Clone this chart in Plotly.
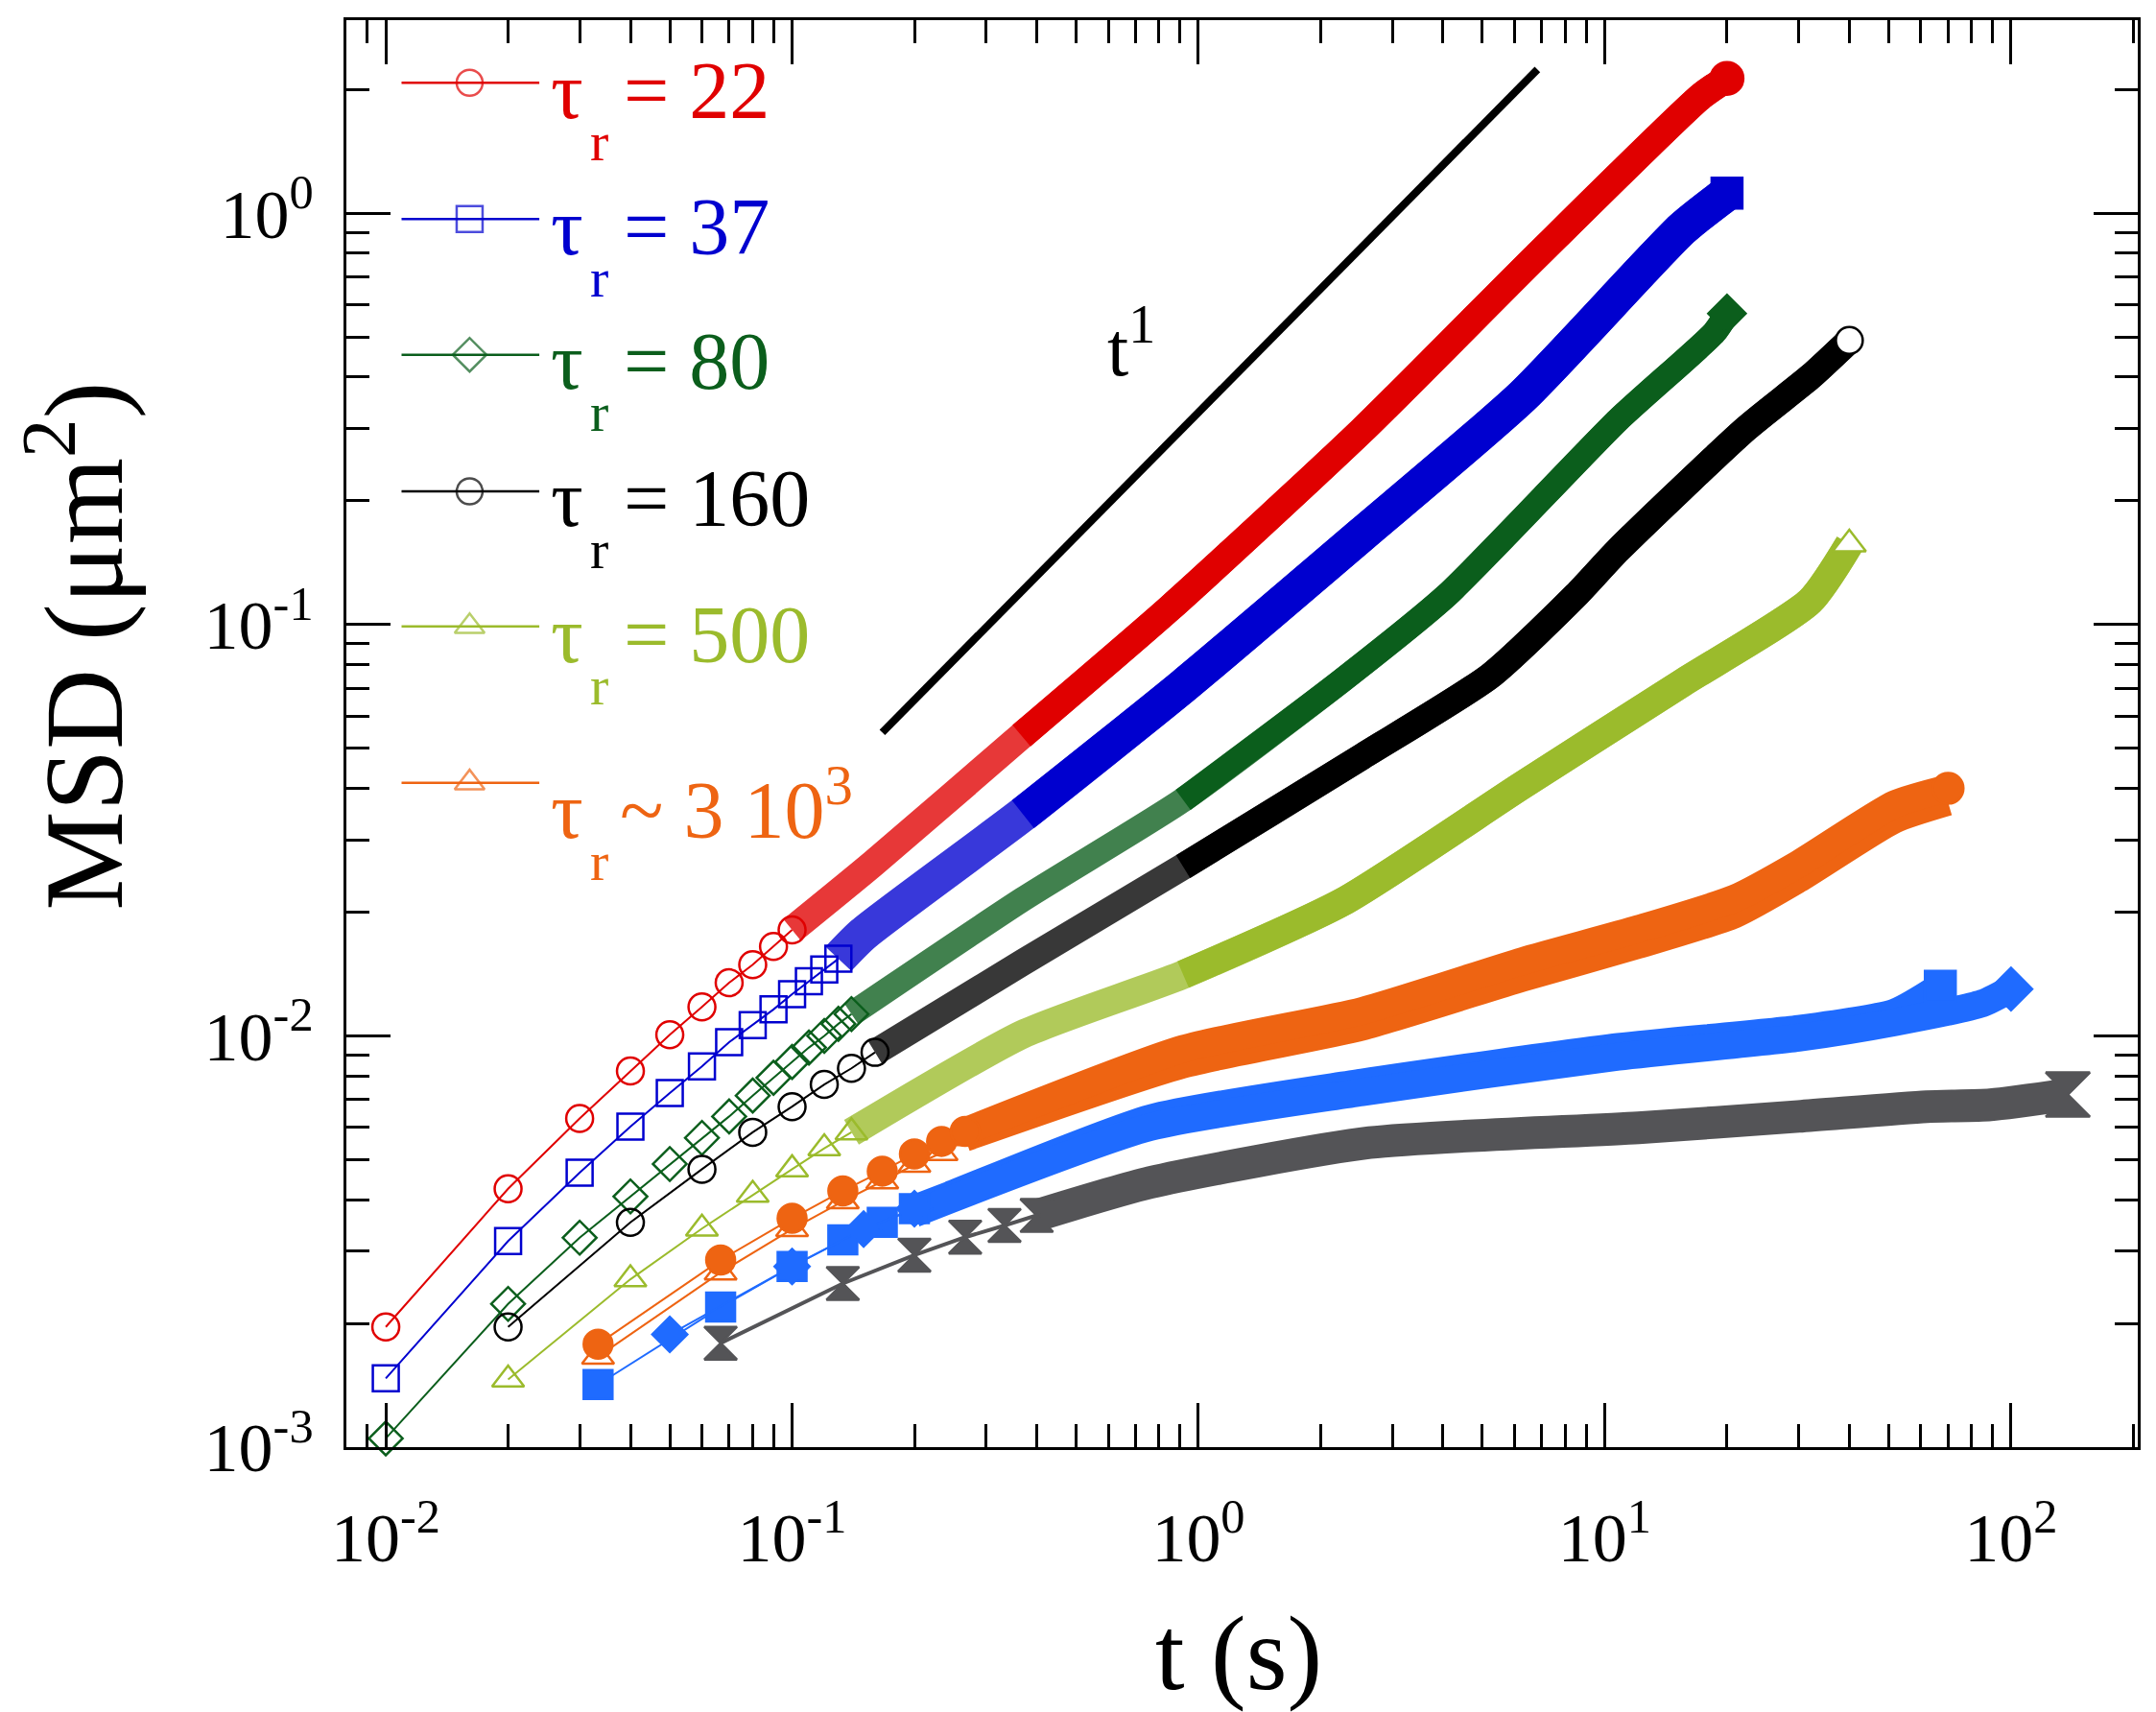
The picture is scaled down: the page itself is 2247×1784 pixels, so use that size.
import plotly.graph_objects as go

FONT = "Liberation Serif"

# ---------------- axis ticks ----------------
X_TICKS = [0.01, 0.1, 1, 10, 100]
X_TICK_TEXT = ["10<sup>-2</sup>", "10<sup>-1</sup>", "10<sup>0</sup>", "10<sup>1</sup>", "10<sup>2</sup>"]
Y_TICKS = [0.001, 0.01, 0.1, 1]
Y_TICK_TEXT = ["10<sup>-3</sup>", "10<sup>-2</sup>", "10<sup>-1</sup>", "10<sup>0</sup>"]
X_MINOR = [m * 10.0 ** e for e in (-3, -2, -1, 0, 1, 2) for m in range(2, 10)]
Y_MINOR = [m * 10.0 ** e for e in (-3, -2, -1, 0) for m in range(2, 10)]

# ---------------- data (t in s, MSD in um^2) ----------------
# tau_r = 22 (open circles)
R22_T = [0.01, 0.02, 0.03, 0.04, 0.05, 0.06, 0.07, 0.08, 0.09, 0.10]
R22_MSD = [0.00196, 0.00425, 0.0063, 0.00822, 0.01007, 0.01176, 0.01347, 0.0149, 0.0165, 0.0181]
R22_BAND_T = [0.10, 0.158, 0.367, 0.853, 2.53, 6.8, 17.3, 20]
R22_BAND_MSD = [0.0181, 0.0262, 0.0537, 0.110, 0.297, 0.788, 1.93, 2.13]

# tau_r = 37 (open squares)
B37_T = [0.01, 0.02, 0.03, 0.04, 0.05, 0.06, 0.07, 0.08, 0.09, 0.10, 0.11, 0.12, 0.13]
B37_MSD = [0.00147, 0.00317, 0.00465, 0.00602, 0.00726, 0.00843, 0.00966, 0.01062, 0.0116,
           0.01263, 0.01358, 0.0145, 0.0154]
B37_BAND_T = [0.13, 0.1496, 0.370, 0.917, 2.53, 6.27, 15.5, 20]
B37_BAND_MSD = [0.0154, 0.0177, 0.0346, 0.0709, 0.166, 0.359, 0.918, 1.12]

# tau_r = 80 (open diamonds)
G80_T = [0.01, 0.02, 0.03, 0.04, 0.05, 0.06, 0.07, 0.08, 0.09, 0.10, 0.11, 0.12, 0.13, 0.14]
G80_MSD = [0.00105, 0.00223, 0.00323, 0.00407, 0.00488, 0.00565, 0.00637, 0.00716, 0.00791,
           0.00864, 0.00937, 0.0100, 0.0107, 0.0113]
G80_BAND_T = [0.14, 0.37, 0.917, 2.27, 4.09, 10.8, 18.6, 20]
G80_BAND_MSD = [0.0113, 0.0215, 0.0375, 0.0735, 0.118, 0.315, 0.513, 0.571]

# tau_r = 160 (open circles, black)
K160_T = [0.02, 0.04, 0.06, 0.08, 0.10, 0.12, 0.14, 0.16]
K160_MSD = [0.00196, 0.00352, 0.00474, 0.00583, 0.00673, 0.00762, 0.00834, 0.00912]
K160_BAND_T = [0.16, 0.37, 0.917, 2.53, 5.22, 8.5, 10.8, 22.3, 32, 40]
K160_BAND_MSD = [0.00912, 0.0151, 0.0258, 0.0478, 0.0750, 0.118, 0.152, 0.300, 0.400, 0.491]

# tau_r = 500 (open triangles)
Y500_T = [0.02, 0.04, 0.06, 0.08, 0.10, 0.12, 0.14]
Y500_MSD = [0.00146, 0.00256, 0.0034, 0.00411, 0.00474, 0.00533, 0.00583]
Y500_BAND_T = [0.14, 0.37, 0.917, 2.27, 6.27, 15.5, 32, 40]
Y500_BAND_MSD = [0.00583, 0.0101, 0.0141, 0.0212, 0.0407, 0.0721, 0.114, 0.157]

# tau_r ~ 3 10^3 (open triangles, orange)
O3K_T = [0.0333, 0.0667, 0.1, 0.1333, 0.1667, 0.2, 0.2333, 0.2667]
O3K_MSD = [0.00166, 0.00266, 0.00339, 0.00396, 0.00443, 0.00486, 0.00519, 0.00564]
O3K_BAND_T = [0.2667, 0.917, 2.53, 6.27, 12.1, 20.9, 30, 51.7, 70]
O3K_BAND_MSD = [0.00564, 0.0085, 0.0105, 0.0138, 0.0166, 0.0197, 0.0240, 0.0335, 0.0370]

# orange filled circles
OF_T = [0.0333, 0.0667, 0.1, 0.1333, 0.1667, 0.2, 0.2333, 0.2667]
OF_MSD = [0.00178, 0.00285, 0.0036, 0.0042, 0.00469, 0.00516, 0.00554, 0.00586]
OF_BAND_T = [0.2667, 0.917, 2.53, 6.27, 12.1, 20.9, 30, 51.7, 70]
OF_BAND_MSD = [0.00586, 0.0093, 0.0115, 0.0152, 0.0182, 0.0216, 0.0262, 0.0366, 0.0400]

# blue filled squares
DBS_T = [0.0333, 0.0667, 0.1, 0.1333, 0.1667, 0.2]
DBS_MSD = [0.00142, 0.00219, 0.00275, 0.00319, 0.00352, 0.0038]
DBS_BAND_T = [0.2, 0.244, 0.76, 2.53, 10.8, 30, 51.7, 67]
DBS_BAND_MSD = [0.0038, 0.0041, 0.0063, 0.0077, 0.0094, 0.0104, 0.0114, 0.0132]

# blue filled diamonds
DBD_T = [0.05, 0.1, 0.15, 0.2]
DBD_MSD = [0.00188, 0.00275, 0.00339, 0.0038]
DBD_BAND_T = [0.2, 0.76, 2.53, 10.8, 30, 51.7, 85, 100]
DBD_BAND_MSD = [0.0037, 0.0060, 0.0073, 0.0089, 0.0099, 0.0108, 0.0120, 0.0130]

# dark grey hourglasses
GR_T = [0.0667, 0.1333, 0.2, 0.2667, 0.3333, 0.4]
GR_MSD = [0.00179, 0.0025, 0.00293, 0.00324, 0.00346, 0.00366]
GR_BAND_T = [0.4, 0.76, 2.64, 12.1, 30, 62, 89, 138]
GR_BAND_MSD = [0.00366, 0.0044, 0.0055, 0.00598, 0.00637, 0.00673, 0.0068, 0.0072]

# t^1 guide line
GUIDE_T = [0.1667, 6.83]
GUIDE_MSD = [0.0547, 2.24]

LEGEND_TAU = "τ"
LEGEND_SUB = "r"
LEGEND_REST = ["= 22", "= 37", "= 80", "= 160", "= 500", "~ 3 10<sup>3</sup>"]

# ---------------- styles ----------------
C_RED, C_BLUE, C_GREEN, C_BLACK = "#E00000", "#0000CF", "#0B5E1C", "#000000"
C_YG, C_OR, C_DB, C_GR = "#9BBB2C", "#EE6412", "#1F6BFF", "#545457"


def rgba(hex_color, a):
    h = hex_color.lstrip("#")
    return "rgba(%d,%d,%d,%.2f)" % (int(h[0:2], 16), int(h[2:4], 16), int(h[4:6], 16), a)


fig = go.Figure()


def band(t, m, color, width, solid_from=0):
    """Dense part of a series: many overlapping markers drawn as a thick stroke.
    Where the open markers still form a lattice, the stroke is slightly lighter."""
    if solid_from > 0:
        fig.add_trace(go.Scatter(x=t, y=m, mode="lines",
                                 line=dict(color=rgba(color, 0.78), width=width,
                                           shape="spline", smoothing=0.6),
                                 showlegend=False, hoverinfo="skip"))
    fig.add_trace(go.Scatter(x=t[solid_from:], y=m[solid_from:], mode="lines",
                             line=dict(color=color, width=width, shape="spline", smoothing=0.6),
                             showlegend=False, hoverinfo="skip"))


def points(t, m, color, symbol, size, lw=2.5, line_w=2.0, fill=None):
    fig.add_trace(go.Scatter(
        x=t, y=m, mode="lines+markers", cliponaxis=False,
        line=dict(color=color, width=line_w),
        marker=dict(symbol=symbol, size=size, color=fill if fill else color,
                    line=dict(color=color, width=lw)),
        showlegend=False))


def end(t, m, color, symbol, size, fill=None, lw=2.5):
    fig.add_trace(go.Scatter(
        x=[t[-1]], y=[m[-1]], mode="markers", cliponaxis=False,
        marker=dict(symbol=symbol, size=size, color=fill if fill else color,
                    line=dict(color=color, width=lw)),
        showlegend=False))


# tau 22
band(R22_BAND_T, R22_BAND_MSD, C_RED, 29, solid_from=2)
points(R22_T, R22_MSD, C_RED, "circle-open", 28)
end(R22_BAND_T, R22_BAND_MSD, C_RED, "circle", 34)
# tau 37
band(B37_BAND_T, B37_BAND_MSD, C_BLUE, 37, solid_from=2)
points(B37_T, B37_MSD, C_BLUE, "square-open", 27)
end(B37_BAND_T, B37_BAND_MSD, C_BLUE, "square", 32)
# tau 80
band(G80_BAND_T, G80_BAND_MSD, C_GREEN, 26, solid_from=2)
points(G80_T, G80_MSD, C_GREEN, "diamond-open", 27)
end(G80_BAND_T, G80_BAND_MSD, C_GREEN, "diamond", 30)
# tau 160
band(K160_BAND_T, K160_BAND_MSD, C_BLACK, 28, solid_from=2)
points(K160_T, K160_MSD, C_BLACK, "circle-open", 28)
end(K160_BAND_T, K160_BAND_MSD, C_BLACK, "circle", 28, fill="white")
# tau 500
band(Y500_BAND_T, Y500_BAND_MSD, C_YG, 30, solid_from=2)
points(Y500_T, Y500_MSD, C_YG, "triangle-up-open", 29)
end(Y500_BAND_T, Y500_BAND_MSD, C_YG, "triangle-up", 30, fill="white")
# tau ~ 3e3 : triangles then filled circles
band(O3K_BAND_T, O3K_BAND_MSD, C_OR, 28)
points(O3K_T, O3K_MSD, C_OR, "triangle-up-open", 29)
band(OF_BAND_T, OF_BAND_MSD, C_OR, 29)
points(OF_T, OF_MSD, C_OR, "circle", 30)
end(OF_BAND_T, OF_BAND_MSD, C_OR, "circle", 32)
# blue filled
band(DBS_BAND_T, DBS_BAND_MSD, C_DB, 29)
band(DBD_BAND_T, DBD_BAND_MSD, C_DB, 29)
points(DBS_T, DBS_MSD, C_DB, "square", 30)
points(DBD_T, DBD_MSD, C_DB, "diamond", 28)
end(DBS_BAND_T, DBS_BAND_MSD, C_DB, "square", 32)
end(DBD_BAND_T, DBD_BAND_MSD, C_DB, "diamond", 34)
# dark grey
band(GR_BAND_T, GR_BAND_MSD, C_GR, 34)
points(GR_T, GR_MSD, C_GR, "hourglass", 34, line_w=4)
end(GR_BAND_T, GR_BAND_MSD, C_GR, "hourglass", 46)

# guide line t^1
fig.add_trace(go.Scatter(x=GUIDE_T, y=GUIDE_MSD, mode="lines",
                         line=dict(color="black", width=8), showlegend=False))

# ---------------- hand-drawn legend (overlay axes in plot-fraction units) ----------------
LEG_COLORS = [C_RED, C_BLUE, C_GREEN, C_BLACK, C_YG, C_OR]
LEG_SYMBOLS = ["circle-open", "square-open", "diamond-open", "circle-open",
               "triangle-up-open", "triangle-up-open"]
LEG_Y = [0.9561, 0.8607, 0.7655, 0.6698, 0.5752, 0.4656]
LEG_BASE_PX = [123, 265, 405, 548, 690, 873]


def px_x(X):
    return (X - 361.5) / 1866.5


def px_y(Y):
    return (1508 - Y) / 1487


for col, sym, ly, base, rest in zip(LEG_COLORS, LEG_SYMBOLS, LEG_Y, LEG_BASE_PX, LEGEND_REST):
    fig.add_trace(go.Scatter(
        x=[0.0308, 0.0688, 0.1077], y=[ly, ly, ly], xaxis="x2", yaxis="y2",
        mode="lines+markers", line=dict(color=col, width=2.5),
        marker=dict(symbol=sym, size=[0, 27, 0], color=col, line=dict(color=col, width=2.5)),
        showlegend=False))
    fig.add_annotation(xref="paper", yref="paper", x=px_x(572), y=px_y(base + 20),
                       xanchor="left", yanchor="bottom", text=LEGEND_TAU, showarrow=False,
                       font=dict(family=FONT, size=84, color=col))
    fig.add_annotation(xref="paper", yref="paper", x=px_x(648 if rest[0] == "=" else 644),
                       y=px_y(base + 20), xanchor="left", yanchor="bottom", text=rest,
                       showarrow=False, font=dict(family=FONT, size=84, color=col))
    fig.add_annotation(xref="paper", yref="paper", x=px_x(613), y=px_y(base + 44 + 15),
                       xanchor="left", yanchor="bottom", text=LEGEND_SUB, showarrow=False,
                       font=dict(family=FONT, size=58, color=col))

# t^1 label
fig.add_annotation(xref="paper", yref="paper", x=px_x(1179), y=px_y(358),
                   text="t<sup>1</sup>", showarrow=False, xanchor="center", yanchor="middle",
                   font=dict(family=FONT, size=80, color="black"))

# axis titles
fig.add_annotation(xref="paper", yref="paper", x=px_x(80), y=px_y(673),
                   text="MSD (μm<sup>2</sup>)", textangle=-90, showarrow=False,
                   xanchor="center", yanchor="middle",
                   font=dict(family=FONT, size=116, color="black"))
fig.add_annotation(xref="paper", yref="paper", x=px_x(1291), y=px_y(1723),
                   text="t (s)", showarrow=False, xanchor="center", yanchor="middle",
                   font=dict(family=FONT, size=110, color="black"))

axis_common = dict(
    type="log", showline=True, linecolor="black", linewidth=3, mirror="ticks",
    ticks="inside", ticklen=46, tickwidth=3, tickcolor="black", showgrid=False,
    zeroline=False, tickfont=dict(family=FONT, size=72, color="black"),
)

fig.update_layout(
    width=2247, height=1784,
    margin=dict(l=361, r=19, t=21, b=276),
    paper_bgcolor="white", plot_bgcolor="white",
    showlegend=False,
    xaxis=dict(range=[-2.097, 2.312], tickvals=X_TICKS, ticktext=X_TICK_TEXT,
               ticklabelstandoff=30,
               minor=dict(tickvals=X_MINOR, ticks="inside", ticklen=24, tickwidth=2.5,
                          tickcolor="black", showgrid=False),
               **axis_common),
    yaxis=dict(range=[-3.0, 0.470], tickvals=Y_TICKS, ticktext=Y_TICK_TEXT,
               ticklabelstandoff=17,
               minor=dict(tickvals=Y_MINOR, ticks="inside", ticklen=24, tickwidth=2.5,
                          tickcolor="black", showgrid=False),
               **axis_common),
    xaxis2=dict(overlaying="x", range=[0, 1], visible=False, anchor="y2"),
    yaxis2=dict(overlaying="y", range=[0, 1], visible=False, anchor="x2"),
)

fig.write_html("out.html")
